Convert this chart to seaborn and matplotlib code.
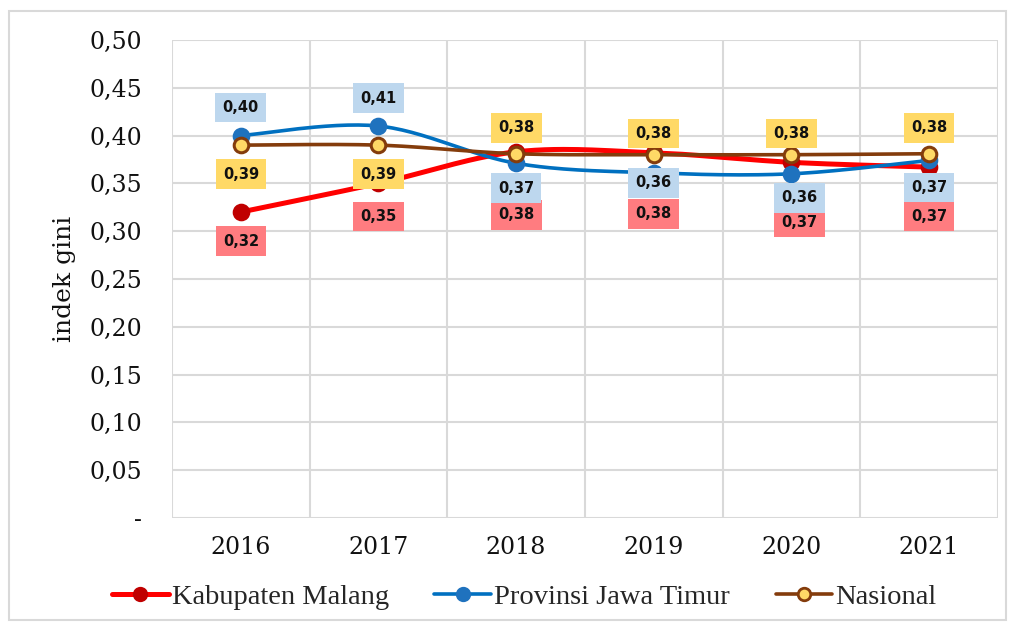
import numpy as np
import pandas as pd
import seaborn as sns
import matplotlib.pyplot as plt
from matplotlib.lines import Line2D
from matplotlib.patches import Rectangle

# data
years = ['2016', '2017', '2018', '2019', '2020', '2021']
kab_malang = [0.32, 0.35, 0.383, 0.382, 0.372, 0.367]
prov_jatim = [0.40, 0.41, 0.371, 0.361, 0.360, 0.374]
nasional = [0.39, 0.39, 0.381, 0.380, 0.380, 0.381]
yticks = [0.0, 0.05, 0.10, 0.15, 0.20, 0.25, 0.30, 0.35, 0.40, 0.45, 0.50]


def smooth(xs, ys, n=30):
    """Excel-like smoothed line (cardinal bezier through points)"""
    p = np.column_stack([xs, ys]).astype(float)
    pts = []
    for i in range(len(p) - 1):
        p0 = p[max(i - 1, 0)]
        p1 = p[i]
        p2 = p[i + 1]
        p3 = p[min(i + 2, len(p) - 1)]
        c1 = p1 + (p2 - p0) / 6
        c2 = p2 - (p3 - p1) / 6
        t = np.linspace(0, 1, n)[:, None]
        seg = ((1 - t) ** 3) * p1 + 3 * ((1 - t) ** 2) * t * c1 \
            + 3 * (1 - t) * t ** 2 * c2 + t ** 3 * p2
        pts.append(seg if i == 0 else seg[1:])
    pts = np.vstack(pts)
    return pts[:, 0], pts[:, 1]


sns.set_style('whitegrid')
plt.rcParams['font.family'] = ['DejaVu Serif']

fig = plt.figure(figsize=(10.12, 6.3), dpi=100)
ax = fig.add_axes([0.170, 0.178, 0.816, 0.7585])

x = np.arange(len(years))
series = [
    # name, values, line colour, marker face, marker edge, lw, box colour, z
    ('Kabupaten Malang', kab_malang, '#FF0000', '#C00000', '#C00000', 3.6, '#FF7C80', 3),
    ('Provinsi Jawa Timur', prov_jatim, '#0070C0', '#1F72BE', '#1F72BE', 2.6, '#BDD7EE', 4),
    ('Nasional', nasional, '#843C0C', '#FFD966', '#843C0C', 2.6, '#FFD966', 5),
]

for name, vals, lc, mf, me, lw, box, z in series:
    sx, sy = smooth(x, vals)
    ax.plot(sx, sy, color=lc, lw=lw, zorder=z, solid_capstyle='round')
    df = pd.DataFrame({'x': x, 'y': vals})
    sns.scatterplot(data=df, x='x', y='y', ax=ax, s=110, color=mf,
                    edgecolor=me, linewidth=2.2, zorder=z + 0.5, legend=False)

# label offsets in pixels (dx, dy) for each series
offsets = {
    'Kabupaten Malang': [(0, -29), (0, -33), (0, -63), (0, -61), (8, -60), (0, -49)],
    'Provinsi Jawa Timur': [(0, 28), (0, 28), (0, -25), (0, -10), (8, -24), (0, -27)],
    'Nasional': [(0, -29), (0, -29), (0, 26), (0, 21), (0, 21), (0, 26)],
}
for name, vals, lc, mf, me, lw, box, z in series:
    for i, v in enumerate(vals):
        dx, dy = offsets[name][i]
        ax.annotate(f'{v:.2f}'.replace('.', ','), xy=(i, v), xytext=(dx, dy),
                    textcoords='offset pixels', ha='center', va='center',
                    fontsize=10.5, fontweight='bold', family='DejaVu Sans',
                    color='#111111', zorder=10,
                    bbox=dict(boxstyle='square,pad=0.5', fc=box, ec='none'))

ax.set_xlim(-0.5, 5.5)
ax.set_ylim(0, 0.5)
ax.set_yticks(yticks)
ax.set_yticklabels(['-'] + [f'{t:.2f}'.replace('.', ',') for t in yticks[1:]])
ax.set_xticks(x)
ax.set_xticklabels(years)
ax.set_xticks(np.arange(-0.5, 6, 1), minor=True)
ax.grid(False)
ax.grid(True, which='minor', axis='x', color='#D9D9D9', lw=1.5)
ax.grid(True, which='major', axis='y', color='#D9D9D9', lw=1.5)
ax.tick_params(axis='both', which='both', length=0, labelsize=17, colors='#111111')
ax.tick_params(axis='y', pad=21.5)
ax.tick_params(axis='x', pad=13)
for s in ax.spines.values():
    s.set_visible(False)
ax.set_xlabel('')
ax.set_ylabel('indek gini', fontsize=18, labelpad=10, color='#111111')

handles = [Line2D([0], [0], color=lc, lw=lw, marker='o', markersize=9,
                  markerfacecolor=mf, markeredgecolor=me, markeredgewidth=2)
           for name, vals, lc, mf, me, lw, box, z in series]
fig.legend(handles, [s[0] for s in series], loc='center', bbox_to_anchor=(0.518, 0.052),
           ncol=3, frameon=False, handlelength=2.0, columnspacing=1.6, handletextpad=0.1,
           prop={'family': 'Liberation Serif', 'size': 20.5})

fig.patches.append(Rectangle((0.009, 0.016), 0.985, 0.967, transform=fig.transFigure,
                             fill=False, ec='#D9D9D9', lw=1.5))

fig.savefig('out.png', dpi=100)
